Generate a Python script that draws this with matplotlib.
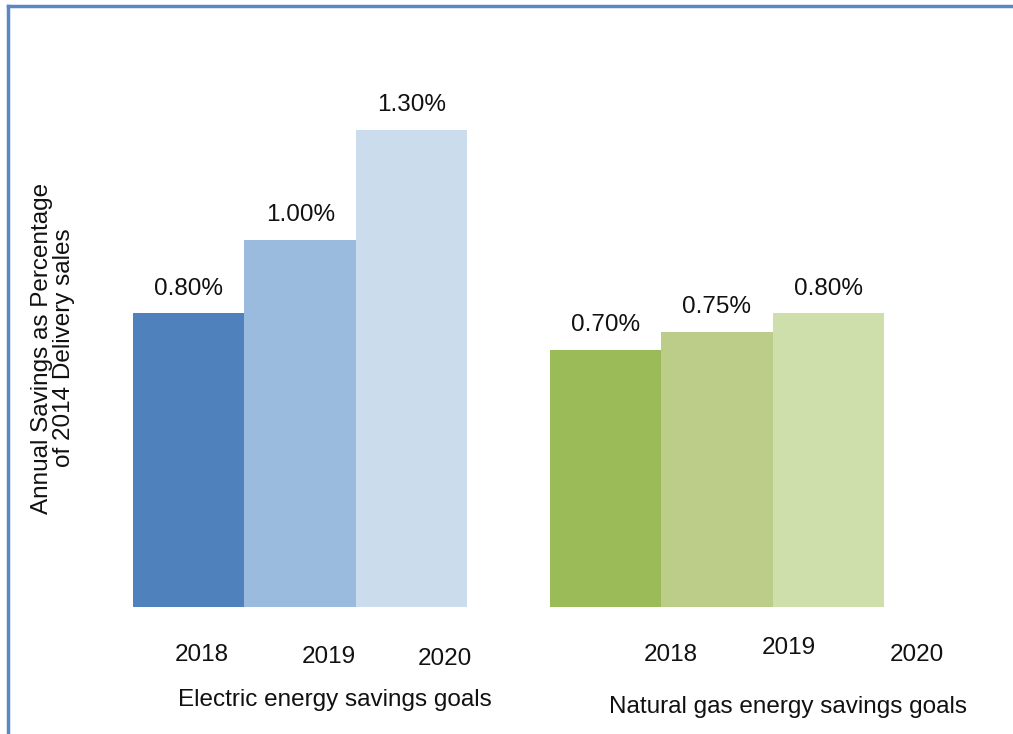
import matplotlib
matplotlib.use("Agg")
import matplotlib.pyplot as plt
from matplotlib.lines import Line2D
from matplotlib.transforms import blended_transform_factory

plt.rcParams["font.family"] = ["Liberation Sans", "DejaVu Sans"]
FS = 17.5

# data
years = ["2018", "2019", "2020"]
electric = [0.80, 1.00, 1.30]
gas = [0.70, 0.75, 0.80]
group_names = ["Electric energy savings goals", "Natural gas energy savings goals"]

elec_colors = ["#4F81BD", "#9ABADE", "#CBDDED"]
gas_colors = ["#9BBB59", "#BCCD8A", "#CFDFAB"]

W, H = 1013, 734
fig = plt.figure(figsize=(W / 100, H / 100), dpi=100)

# axes spans bar area: x 133..884 px, y baseline 607 .. top 130 px
ax = fig.add_axes([133 / W, (H - 607) / H, (884 - 133) / W, (607 - 130) / H])
gap = 0.737
elec_x = [0, 1, 2]
gas_x = [2.5 + gap + 0.5 + i for i in range(3)]

ax.bar(elec_x, electric, width=1.0, color=elec_colors, edgecolor="none")
ax.bar(gas_x, gas, width=1.0, color=gas_colors, edgecolor="none")
ax.set_xlim(-0.5, gas_x[-1] + 0.5)
ax.set_ylim(0, 1.30)
ax.axis("off")

for x, v in zip(elec_x + gas_x, electric + gas):
    ax.annotate(f"{v:.2f}%", (x, v), xytext=(0, 10), textcoords="offset points",
                ha="center", va="bottom", fontsize=FS, color="#111111")

# year labels (slightly staggered, as in the original)
tr = blended_transform_factory(ax.transData, fig.transFigure)
year_x = [0.12, 1.26, 2.30, 4.32, 5.38, 6.53]
year_y = [655, 657, 659, 655, 648, 655]
for i, (x, y) in enumerate(zip(year_x, year_y)):
    fig.text(x, 1 - y / H, years[i % 3], transform=tr, ha="center", va="center",
             fontsize=FS, color="#111111")

fig.text(335 / W, 1 - 700 / H, group_names[0], ha="center", va="center",
         fontsize=FS, color="#111111")
fig.text(788 / W, 1 - 707 / H, group_names[1], ha="center", va="center",
         fontsize=FS, color="#111111")

fig.text(53 / W, 1 - 348 / H, "Annual Savings as Percentage\nof 2014 Delivery sales",
         rotation=90, ha="center", va="center", fontsize=FS, color="#111111",
         linespacing=1.05)

# frame lines (left and top)
fig.add_artist(Line2D([8 / W, 8 / W], [0, 1 - 6 / H], transform=fig.transFigure,
                      color="#5B87C5", lw=2.5))
fig.add_artist(Line2D([8 / W, 1], [1 - 6 / H, 1 - 6 / H], transform=fig.transFigure,
                      color="#5B87C5", lw=2.5))

fig.savefig("out.png", dpi=100)
